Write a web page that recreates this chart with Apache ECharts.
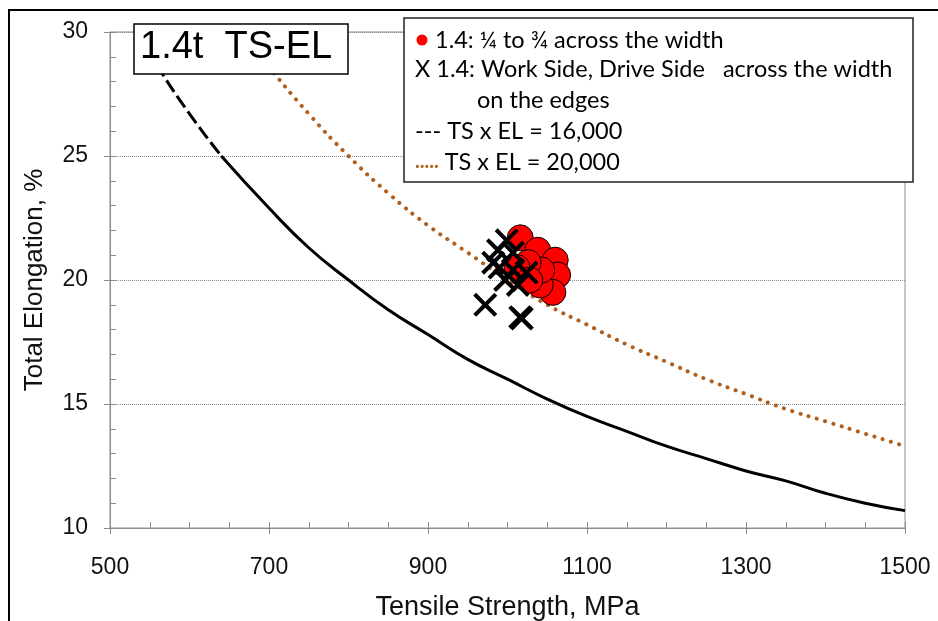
<!DOCTYPE html>
<html>
<head>
<meta charset="utf-8">
<script src="https://cdn.jsdelivr.net/npm/echarts@6/dist/echarts.min.js"></script>
<style>
  html, body { margin: 0; padding: 0; background: #fff; }
  #chart { width: 938px; height: 621px; }
</style>
</head>
<body>
<div id="chart"></div>
<script>
// 1.4: 1/4 to 3/4 across the width (red circles)
const redTS = [1016, 1038, 1060, 1063, 1057, 1041, 1043, 1026, 1012, 1028];
const redEL = [21.7, 21.2, 20.8, 20.2, 19.5, 19.8, 20.4, 20.7, 20.5, 20.0];
// 1.4: work side / drive side, on the edges (X)
const crossTS = [999, 988, 1007, 990, 1007, 997, 1013, 1024, 982, 972, 1016, 1018];
const crossEL = [21.6, 21.2, 21.1, 20.5, 20.4, 20.0, 19.8, 20.3, 20.7, 19.0, 18.5, 18.45];
// TS x EL = 16,000 (dashed top part, solid rest)
const dashTS = [533, 560, 600, 640];
const dashEL = [30.0, 28.6, 26.7, 25.0];
const solidTS = [640, 700, 750, 800, 850, 900, 950, 1000, 1050, 1100, 1150, 1200, 1250, 1300, 1350, 1400, 1450, 1500];
const solidEL = [25.0, 22.9, 21.3, 20.0, 18.8, 17.8, 16.8, 16.0, 15.2, 14.5, 13.9, 13.3, 12.8, 12.3, 11.9, 11.4, 11.0, 10.7];
// TS x EL = 20,000
const dotTS = [667, 700, 750, 800, 850, 900, 950, 1000, 1050, 1100, 1150, 1200, 1250, 1300, 1350, 1400, 1450, 1500];
const dotEL = [30.0, 28.6, 26.7, 25.0, 23.5, 22.2, 21.1, 20.0, 19.0, 18.2, 17.4, 16.7, 16.0, 15.4, 14.8, 14.3, 13.8, 13.3];

const legendLines = [
  "1.4: \u00bc to \u00be across the width",
  "X 1.4: Work Side, Drive Side   across the width",
  "on the edges",
  "--- TS x EL = 16,000",
  "TS x EL = 20,000"
];

function pairs(xs, ys) {
  return xs.map((x, i) => [x, ys[i]]);
}

const crossPath = "path://M2.4,0L10,7.6L17.6,0L20,2.4L12.4,10L20,17.6L17.6,20L10,12.4L2.4,20L0,17.6L7.6,10L0,2.4Z";
const brown = "#b0601c";
const axisFont = "Liberation Sans";
const legendFont = "Lato, Open Sans, sans-serif";

let chart = echarts.init(document.getElementById("chart"));
chart.setOption({
  animation: false,
  grid: {
    left: 110, right: 33, top: 32, bottom: 93,
    outerBoundsMode: "none", containLabel: false,
    show: true, borderColor: "#8c8c8c", borderWidth: 1
  },
  xAxis: [
    {
      type: "value", min: 500, max: 1500, interval: 200,
      name: "Tensile Strength, MPa", nameLocation: "middle", nameGap: 66,
      nameTextStyle: { fontFamily: axisFont, fontSize: 27, color: "#111" },
      axisLine: { show: true, lineStyle: { color: "#8c8c8c" } },
      axisTick: { show: true, inside: false, length: 6, lineStyle: { color: "#8c8c8c" } },
      axisLabel: {
        fontFamily: axisFont, fontSize: 23, color: "#111", margin: 28,
        formatter: v => String(v)
      },
      splitLine: { show: false }
    },
    {
      type: "value", min: 500, max: 1500, interval: 50, position: "bottom",
      axisLine: { show: false },
      axisTick: { show: true, inside: true, length: 6, lineStyle: { color: "#8c8c8c" } },
      axisLabel: { show: false },
      splitLine: { show: false }
    }
  ],
  yAxis: [
    {
      type: "value", min: 10, max: 30, interval: 5,
      name: "Total Elongation, %", nameLocation: "middle", nameGap: 62, nameRotate: 90,
      nameTextStyle: { fontFamily: axisFont, fontSize: 26, color: "#111" },
      axisLine: { show: true, lineStyle: { color: "#8c8c8c" } },
      axisTick: { show: true, inside: false, length: 6, lineStyle: { color: "#8c8c8c" } },
      axisLabel: { fontFamily: axisFont, fontSize: 23, color: "#111", margin: 22 },
      splitLine: { show: true, lineStyle: { color: "#8c8c8c", type: "dotted", width: 1 } }
    },
    {
      type: "value", min: 10, max: 30, interval: 1, position: "left",
      axisLine: { show: false },
      axisTick: { show: true, inside: true, length: 6, lineStyle: { color: "#8c8c8c" } },
      axisLabel: { show: false },
      splitLine: { show: false }
    }
  ],
  series: [
    {
      type: "line", data: pairs(dotTS, dotEL), smooth: true, showSymbol: false,
      lineStyle: { color: brown, width: 4, type: [0.1, 8.5], cap: "round" }, z: 2
    },
    {
      type: "line", data: pairs(dashTS, dashEL), smooth: true, showSymbol: false,
      lineStyle: { color: "#000", width: 3, type: [14, 5] }, z: 2
    },
    {
      type: "line", data: pairs(solidTS, solidEL), smooth: true, showSymbol: false,
      lineStyle: { color: "#000", width: 3 }, z: 2
    },
    {
      type: "scatter", data: pairs(redTS, redEL), symbol: "circle", symbolSize: 26,
      itemStyle: { color: "#ff0000", borderColor: "#000", borderWidth: 1, opacity: 1 }, z: 3
    },
    {
      type: "scatter", data: pairs(crossTS, crossEL), symbol: crossPath, symbolSize: 24,
      itemStyle: { color: "#000", opacity: 1 }, z: 4
    }
  ],
  graphic: [
    // outer frame
    {
      type: "polyline", z: 100,
      shape: { points: [[9, 621], [9, 10], [938, 10]] },
      style: { stroke: "#000", lineWidth: 2, fill: null }
    },
    // title box
    {
      type: "rect", z: 100,
      shape: { x: 134, y: 24, width: 214, height: 50 },
      style: { fill: "#fff", stroke: "#000", lineWidth: 1.5 }
    },
    {
      type: "text", z: 101, left: 140, top: 29,
      style: { text: "1.4t  TS-EL", font: "38px " + axisFont, fill: "#000" }
    },
    // legend box
    {
      type: "rect", z: 100,
      shape: { x: 404, y: 18, width: 509, height: 164 },
      style: { fill: "#fff", stroke: "#222", lineWidth: 1.5 }
    },
    {
      type: "circle", z: 101,
      shape: { cx: 422, cy: 40, r: 5.5 },
      style: { fill: "#ff0000" }
    },
    {
      type: "text", z: 101, x: 435, y: 40,
      style: { text: legendLines[0], font: "23.5px " + legendFont, fill: "#000", verticalAlign: "middle" }
    },
    {
      type: "text", z: 101, x: 415, y: 69,
      style: { text: legendLines[1], font: "23.5px " + legendFont, fill: "#000", verticalAlign: "middle" }
    },
    {
      type: "text", z: 101, x: 477, y: 100,
      style: { text: legendLines[2], font: "23.5px " + legendFont, fill: "#000", verticalAlign: "middle" }
    },
    {
      type: "text", z: 101, x: 415, y: 131,
      style: { text: legendLines[3], font: "23.5px " + legendFont, fill: "#000", verticalAlign: "middle" }
    },
    {
      type: "text", z: 101, x: 415, y: 162,
      style: {
        text: "{d|.....} " + legendLines[4],
        font: "23.5px " + legendFont, fill: "#000", verticalAlign: "middle",
        rich: { d: { fill: brown, font: "bold 20px " + legendFont } }
      }
    }
  ]
});
</script>
</body>
</html>
